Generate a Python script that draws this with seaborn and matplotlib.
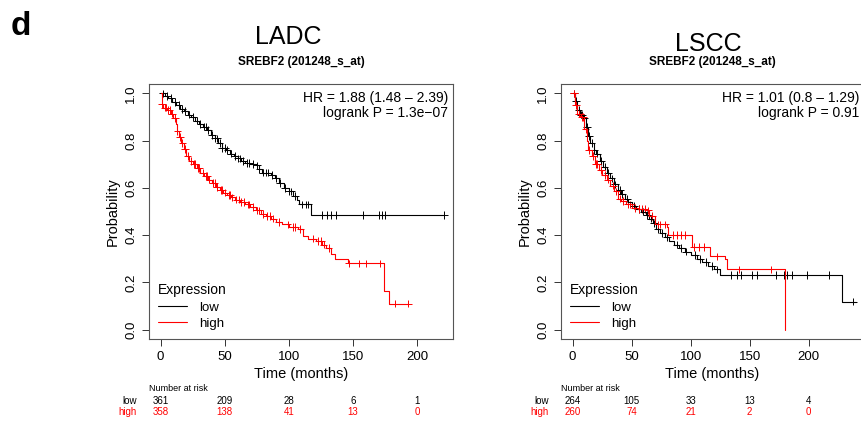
import numpy as np
import pandas as pd
import matplotlib.pyplot as plt
import matplotlib.transforms as mtransforms
import seaborn as sns

# ------------------------------------------------------------
# data (KM step curves, censor times)
# ------------------------------------------------------------
ladc_low_t = [0, 3, 6, 9, 12, 15, 18, 21, 24, 27, 30, 33, 36, 39, 42, 45, 48, 51, 54, 57,
              60, 63, 66, 70, 74, 77, 79, 86, 89, 92, 96, 100, 103, 106, 108, 117, 221]
ladc_low_s = [1.0, 0.99, 0.98, 0.965, 0.95, 0.935, 0.925, 0.91, 0.90, 0.885, 0.87, 0.86,
              0.845, 0.825, 0.81, 0.79, 0.77, 0.76, 0.745, 0.735, 0.725, 0.715, 0.705, 0.70,
              0.695, 0.68, 0.665, 0.655, 0.64, 0.62, 0.60, 0.585, 0.565, 0.55, 0.53, 0.485, 0.485]
ladc_low_cens = [2, 5, 8, 11, 14, 17, 19, 22, 25, 28, 31, 34, 35, 37, 40, 42, 44, 46, 48, 50,
                 52, 55, 58, 60, 62, 64, 67, 69, 72, 75, 77, 80, 82, 84, 87, 90, 93, 97, 100,
                 102, 105, 110, 113, 115, 126, 130, 133, 137, 158, 170, 173, 175, 221]

ladc_high_t = [0, 1, 2, 5, 8, 10, 12, 13, 14, 16, 18, 20, 22, 25, 28, 31, 34, 37, 40, 43, 46,
               49, 52, 55, 58, 62, 66, 70, 74, 78, 82, 86, 90, 95, 100, 107, 111, 115, 121,
               126, 129, 133, 136, 146, 174, 178, 193]
ladc_high_s = [1.0, 0.955, 0.94, 0.93, 0.915, 0.895, 0.87, 0.84, 0.815, 0.79, 0.765, 0.735,
               0.715, 0.70, 0.685, 0.665, 0.65, 0.635, 0.62, 0.605, 0.59, 0.58, 0.57, 0.56,
               0.55, 0.54, 0.53, 0.52, 0.505, 0.49, 0.48, 0.47, 0.455, 0.445, 0.435, 0.425,
               0.395, 0.385, 0.375, 0.36, 0.345, 0.32, 0.30, 0.28, 0.165, 0.11, 0.11]
ladc_high_cens = [1, 3, 4, 6, 7, 9, 11, 13, 15, 17, 19, 21, 24, 26, 27, 29, 30, 33, 35, 36,
                  38, 41, 42, 44, 47, 48, 50, 53, 54, 56, 59, 61, 63, 65, 68, 69, 72, 75, 77,
                  80, 83, 85, 88, 92, 99, 103, 105, 109, 119, 123, 125, 127, 131, 147, 155,
                  160, 171, 183, 193]

lscc_low_t = [0, 2, 4, 6, 9, 11, 13, 15, 18, 20, 23, 26, 29, 32, 35, 38, 41, 44, 47, 50, 54,
              58, 62, 65, 68, 71, 74, 78, 82, 86, 90, 95, 100, 105, 110, 115, 120, 125, 228, 240]
lscc_low_s = [1.0, 0.97, 0.93, 0.91, 0.895, 0.86, 0.82, 0.79, 0.76, 0.745, 0.715, 0.69,
              0.665, 0.64, 0.615, 0.59, 0.575, 0.555, 0.54, 0.525, 0.51, 0.50, 0.485, 0.47,
              0.45, 0.425, 0.41, 0.39, 0.375, 0.36, 0.345, 0.33, 0.315, 0.30, 0.285, 0.27,
              0.255, 0.23, 0.118, 0.118]
lscc_low_cens = [1, 3, 5, 7, 8, 10, 12, 14, 16, 18, 21, 24, 27, 30, 33, 36, 40, 42, 46, 52,
                 56, 60, 63, 66, 69, 72, 76, 80, 88, 92, 96, 104, 108, 113, 118, 122, 134,
                 139, 143, 152, 156, 172, 179, 182, 186, 199, 217, 238]

lscc_high_t = [0, 2, 4, 7, 10, 12, 13, 16, 19, 22, 25, 29, 32, 35, 38, 41, 45, 50, 55, 63,
               65, 70, 80, 81, 97, 101, 114, 116, 129, 131, 180]
lscc_high_s = [1.0, 0.95, 0.915, 0.90, 0.85, 0.80, 0.76, 0.735, 0.70, 0.675, 0.655, 0.635,
               0.61, 0.585, 0.555, 0.545, 0.53, 0.515, 0.51, 0.505, 0.48, 0.445, 0.435, 0.40,
               0.40, 0.35, 0.35, 0.31, 0.30, 0.255, 0.0]
lscc_high_cens = [1, 3, 5, 6, 8, 9, 11, 14, 17, 20, 21, 24, 27, 30, 34, 37, 40, 43, 47, 49,
                  53, 56, 59, 61, 64, 67, 72, 74, 78, 85, 88, 92, 95, 103, 107, 111, 122,
                  141, 168]

risk_times = [0, 50, 100, 150, 200]
ladc_risk_low = [361, 209, 28, 6, 1]
ladc_risk_high = [358, 138, 41, 13, 0]
lscc_risk_low = [264, 105, 33, 13, 4]
lscc_risk_high = [260, 74, 21, 2, 0]

ladc_stats = ["HR = 1.88 (1.48 \u2013 2.39)", "logrank P = 1.3e\u221207"]
lscc_stats = ["HR = 1.01 (0.8 \u2013 1.29)", "logrank P = 0.91"]

groups = ["low", "high"]
colors = {"low": "black", "high": "#ff0000"}

# ------------------------------------------------------------
sns.set_style("ticks")
plt.rcParams["font.family"] = ["Liberation Sans", "DejaVu Sans"]
plt.rcParams["text.color"] = "black"
plt.rcParams["axes.labelcolor"] = "black"
plt.rcParams["xtick.color"] = "black"
plt.rcParams["ytick.color"] = "black"
plt.rcParams["axes.edgecolor"] = "#555555"
plt.rcParams["axes.linewidth"] = 0.8


def curve_frames(low_t, low_s, low_c, high_t, high_s, high_c):
    curves = []
    cens = []
    for g, t, s, c in [("low", low_t, low_s, low_c), ("high", high_t, high_s, high_c)]:
        curves.append(pd.DataFrame({"time": t, "surv": s, "group": g}))
        idx = np.searchsorted(t, c, side="right") - 1
        cens.append(pd.DataFrame({"time": c, "surv": np.array(s)[idx], "group": g}))
    return pd.concat(curves, ignore_index=True), pd.concat(cens, ignore_index=True)


def km_panel(ax, curves, cens, xlim, stats, risk_low, risk_high):
    sns.lineplot(data=curves, x="time", y="surv", hue="group", hue_order=groups,
                 palette=colors, estimator=None, sort=False, drawstyle="steps-post",
                 linewidth=0.8, ax=ax)
    sns.scatterplot(data=cens, x="time", y="surv", hue="group", hue_order=groups,
                    palette=colors, marker="+", s=30, linewidth=0.7, legend=False, ax=ax)
    ax.set_xlim(*xlim)
    ax.set_ylim(-0.04, 1.04)
    ax.set_xticks(risk_times)
    ax.set_yticks([0.0, 0.2, 0.4, 0.6, 0.8, 1.0])
    ax.set_yticklabels(["0.0", "0.2", "0.4", "0.6", "0.8", "1.0"], rotation=90, va="center")
    ax.tick_params(labelsize=9.5, length=5, width=0.7, color="#333333")
    ax.set_xlabel("Time (months)", fontsize=10.5, labelpad=3)
    ax.set_ylabel("Probability", fontsize=10.5, labelpad=4)
    for sp in ax.spines.values():
        sp.set_visible(True)

    ax.text(0.985, 0.945, stats[0], transform=ax.transAxes, ha="right", va="center", fontsize=10)
    ax.text(0.985, 0.888, stats[1], transform=ax.transAxes, ha="right", va="center", fontsize=10)

    leg = ax.legend(title="Expression", loc="lower left", bbox_to_anchor=(0.0, 0.0),
                    frameon=False, fontsize=9.5, title_fontsize=10, alignment="left",
                    handlelength=2.2, handletextpad=0.9, labelspacing=0.3,
                    borderaxespad=0.3)
    for h in leg.get_lines():
        h.set_linewidth(0.8)

    trans = mtransforms.blended_transform_factory(ax.transData, ax.transAxes)
    ax.text(0.0, -0.196, "Number at risk", transform=ax.transAxes, ha="left", va="center", fontsize=6.5)
    ax.text(-0.04, -0.243, "low", transform=ax.transAxes, ha="right", va="center", fontsize=7)
    ax.text(-0.04, -0.286, "high", transform=ax.transAxes, ha="right", va="center",
            fontsize=7, color="#ff0000")
    for t, a, b in zip(risk_times, risk_low, risk_high):
        ax.text(t, -0.243, str(a), transform=trans, ha="center", va="center", fontsize=7)
        ax.text(t, -0.286, str(b), transform=trans, ha="center", va="center",
                fontsize=7, color="#ff0000")


fig = plt.figure(figsize=(8.61, 4.21), dpi=100)
ax1 = fig.add_axes([149 / 861, 82 / 421, 304 / 861, 255 / 421])
ax2 = fig.add_axes([561 / 861, 82 / 421, 303 / 861, 255 / 421])

c1, z1 = curve_frames(ladc_low_t, ladc_low_s, ladc_low_cens, ladc_high_t, ladc_high_s, ladc_high_cens)
c2, z2 = curve_frames(lscc_low_t, lscc_low_s, lscc_low_cens, lscc_high_t, lscc_high_s, lscc_high_cens)

km_panel(ax1, c1, z1, (-9.1, 228), ladc_stats, ladc_risk_low, ladc_risk_high)
km_panel(ax2, c2, z2, (-9.9, 246.9), lscc_stats, lscc_risk_low, lscc_risk_high)

fig.text(0.012, 0.975, "d", fontsize=24, fontweight="bold", ha="left", va="top")
fig.text(288 / 861, 1 - 37 / 421, "LADC", fontsize=18, ha="center", va="center")
fig.text(301 / 861, 1 - 62 / 421, "SREBF2 (201248_s_at)", fontsize=8.5, fontweight="bold",
         ha="center", va="center")
fig.text(708 / 861, 1 - 44 / 421, "LSCC", fontsize=18, ha="center", va="center")
fig.text(712 / 861, 1 - 62 / 421, "SREBF2 (201248_s_at)", fontsize=8.5, fontweight="bold",
         ha="center", va="center")

fig.savefig("out.png", dpi=100)
